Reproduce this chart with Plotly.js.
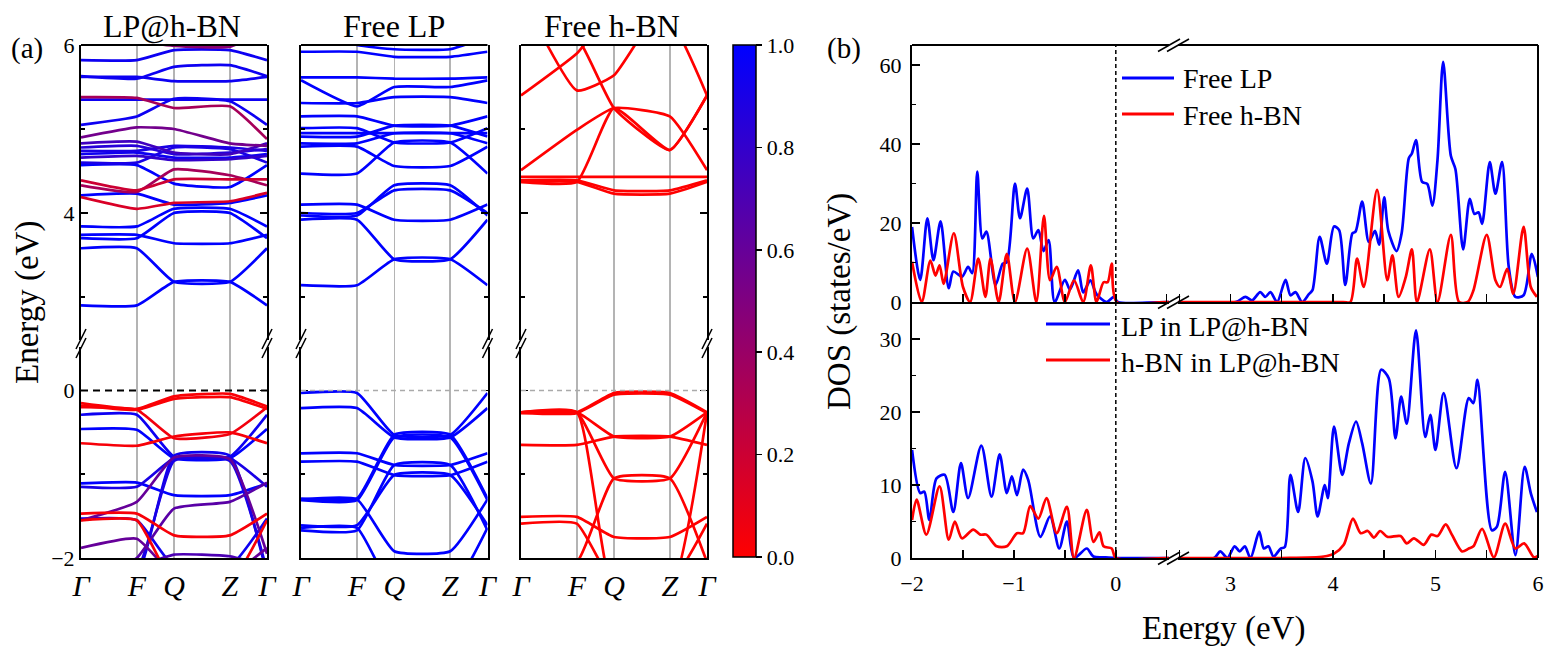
<!DOCTYPE html>
<html><head><meta charset="utf-8">
<script src="https://cdn.plot.ly/plotly-3.0.1.min.js"></script>
<style>body{margin:0;background:#fff}#c{width:1552px;height:648px}</style>
</head><body><div id="c"></div>
<script>
// ---------- DATA ----------
const kTicks = [0, 0.30, 0.50, 0.80, 1.0];
const kLabels = ['Γ', 'F', 'Q', 'Z', 'Γ'];

// band energies (eV) at Γ, F, Q, Z, Γ
const lpHbnUp = [
 [5.82,5.82,5.94,5.94,5.82],[5.63,5.60,5.74,5.76,5.63],[6.30,6.05,5.99,5.98,6.20],
 [5.38,5.37,5.25,5.27,4.88],[5.35,5.35,5.35,5.35,5.35],[5.05,5.15,5.36,5.33,5.05],
 [4.90,5.02,5.00,4.83,4.80],[4.83,4.85,4.72,4.70,4.83],[4.78,4.80,4.70,4.72,4.76],
 [4.74,4.74,4.80,4.78,4.74],[4.70,4.72,4.66,4.66,4.70],[4.66,4.68,4.63,4.64,4.68],
 [4.57,4.57,4.35,4.31,4.57],[4.60,4.60,4.78,4.76,4.60],[4.39,4.27,4.40,4.40,4.40],
 [4.33,4.25,4.52,4.45,4.33],[4.21,4.23,4.10,4.12,4.21],[4.19,4.05,4.12,4.14,4.24],
 [3.84,3.84,4.05,4.05,3.84],[3.74,3.74,3.64,3.64,3.74],[3.70,3.70,4.00,4.00,3.70],
 [3.58,3.58,3.18,3.18,3.58],[2.90,2.90,3.18,3.18,2.90],[5.62,5.62,5.57,5.57,5.62]
];
const lpHbnUpW = [0.95,0.95,0.45,0.35,0.95,0.95,0.55,0.75,0.85,0.9,0.95,0.8,1,0.9,0.2,0.35,1,0.15,1,1,1,1,1,0.95];

const lpHbnLow = [
 [-0.15,-0.22,-0.07,-0.04,-0.19],[-0.18,-0.23,-0.10,-0.08,-0.22],[-0.20,-0.23,-0.57,-0.52,-0.20],
 [-0.29,-0.29,-0.79,-0.79,-0.29],[-0.63,-0.66,-0.55,-0.50,-0.63],[-0.46,-0.47,-0.81,-0.81,-0.46],
 [-1.11,-1.10,-1.25,-1.25,-1.11],[-1.15,-1.15,-0.81,-0.81,-1.15],[-1.55,-1.33,-0.80,-0.82,-1.95],
 [-1.47,-1.47,-1.73,-1.73,-1.47],[-1.55,-1.55,-2.30,-2.30,-1.55],[-1.53,-1.55,-2.10,-2.10,-1.53],
 [-1.88,-1.77,-2.20,-2.20,-1.88],[-2.10,-2.10,-1.96,-1.98,-2.10],[-2.30,-2.20,-0.78,-0.78,-2.20],
 [-2.30,-2.15,-0.84,-0.84,-2.15],[-2.30,-2.00,-1.41,-1.33,-1.10]
];
const lpHbnLowW = [0.02,0.02,0.05,0.95,0.03,1,1,0.9,0.6,0.03,0.03,0.95,0.6,0.7,0.95,0.9,0.65];

const freeLpUp = [
 [3.14,3.14,3.45,3.45,3.14],[3.92,3.92,3.45,3.45,3.92],[3.97,3.97,4.33,4.33,3.97],
 [4.00,4.00,4.27,4.27,4.00],[4.10,4.10,3.92,3.92,4.10],[4.47,4.47,4.84,4.84,4.47],
 [4.79,4.79,4.56,4.56,4.79],[4.83,4.83,4.95,4.95,4.83],[4.91,4.91,5.04,5.04,4.91],
 [4.95,4.95,4.95,4.95,4.95],[5.01,5.01,4.84,4.84,5.01],[5.15,5.15,5.04,5.04,5.15],
 [5.31,5.31,5.38,5.38,5.31],[5.58,5.27,5.50,5.50,5.58],[5.615,5.615,5.60,5.60,5.615],
 [5.92,5.92,5.86,5.86,5.92],[6.20,6.00,5.95,5.95,6.10]
];
const freeLpLow = [
 [-0.03,-0.03,-0.53,-0.53,-0.03],[-0.21,-0.21,-0.56,-0.56,-0.21],[-0.75,-0.75,-0.89,-0.89,-0.75],
 [-0.85,-0.85,-1.01,-1.01,-0.85],[-1.29,-1.29,-0.53,-0.53,-1.29],[-1.31,-1.31,-0.56,-0.56,-1.31],
 [-1.30,-1.30,-1.92,-1.92,-1.30],[-1.61,-1.61,-1.01,-1.01,-1.61],[-1.67,-1.67,-0.89,-0.89,-1.67],
 [-1.64,-1.64,-2.40,-2.40,-1.64]
];

const freeBnUp = [
 [4.43,4.43,4.43,4.43,4.43],[4.37,4.37,4.23,4.23,4.37],[4.39,4.39,4.27,4.27,4.39],
 [4.51,4.99,5.25,5.15,4.51],[4.37,4.37,5.25,4.75,5.40],[5.40,5.90,6.40,6.40,6.40],
 [6.60,5.46,5.64,6.60,6.60],[6.50,6.10,5.25,4.75,5.40],[6.50,6.50,6.50,6.30,5.40]
];
const freeBnLow = [
 [-0.26,-0.26,-0.03,-0.03,-0.26],[-0.27,-0.27,-0.05,-0.05,-0.27],[-0.26,-0.26,-0.55,-0.55,-0.26],
 [-0.65,-0.65,-0.55,-0.55,-0.65],[-0.26,-0.26,-1.05,-1.05,-0.26],[-0.26,-0.26,-2.40,-2.40,-0.26],
 [-2.20,-2.05,-1.05,-1.05,-2.05],[-1.51,-1.51,-1.75,-1.75,-1.51],[-1.59,-1.59,-2.30,-2.30,-1.59]
];

// DOS (states/eV)
const eFreeLP = [-2.0,-1.92,-1.85,-1.79,-1.72,-1.64,-1.595,-1.51,-1.45,-1.41,-1.36,-1.31,-1.27,-1.18,-1.11,-1.07,-0.99,-0.94,-0.87,-0.81,-0.76,-0.71,-0.66,-0.60,-0.50,-0.45,-0.37,-0.32,-0.25,-0.19,-0.09,-0.02,0.02,0.5,2.4,3.05,3.146,3.21,3.29,3.34,3.39,3.455,3.537,3.585,3.634,3.70,3.765,3.80,3.87,3.94,4.01,4.06,4.12,4.19,4.22,4.285,4.35,4.41,4.45,4.50,4.54,4.62,4.67,4.74,4.77,4.81,4.87,4.92,4.97,5.02,5.075,5.15,5.195,5.27,5.335,5.38,5.42,5.455,5.53,5.585,5.65,5.715,5.78,5.86,5.94,6.0];
const dosFreeLP = [19,5.6,21.2,10.6,20.4,3.5,7.7,6.4,8.9,7.3,33.0,16.1,17.8,4.3,9.7,10.1,30.0,21.2,28.7,16.1,18.2,12.9,15.7,0,5.6,3.2,8.0,2.4,5.5,2.0,0,1.3,0,0,0,0,1.3,0.4,2.5,1.3,2.5,0,5.6,1.7,2.5,0,2.0,3.0,16.5,9.7,19.1,18.2,4.3,17.4,17.8,25.4,15.2,18,14.5,26.5,18,12.9,17.4,36.4,37.6,41.0,30.4,29.9,24.4,36,60.8,37,33.6,13.3,26.1,22.3,22.7,19.8,35.4,27.4,35.4,8.9,1.3,1.7,12.2,6.3];

const eFreeBN = [-2.0,-1.905,-1.82,-1.77,-1.73,-1.69,-1.59,-1.50,-1.43,-1.35,-1.28,-1.23,-1.15,-1.07,-0.99,-0.87,-0.78,-0.705,-0.645,-0.58,-0.50,-0.41,-0.32,-0.245,-0.19,-0.12,-0.08,-0.04,0.01,0.5,2.4,4.10,4.17,4.235,4.30,4.43,4.53,4.58,4.64,4.71,4.77,4.82,4.945,5.02,5.15,5.23,5.315,5.37,5.50,5.585,5.63,5.70,5.76,5.86,5.93,5.99];
const dosFreeBN = [10.2,0,10.5,6.7,9.3,4.6,17.4,3.8,0,11,1.3,11,0,12.2,0,13.5,0,21.8,5.5,8.9,0,5.5,0,9.3,0,5,5,9.7,0,0,0,0,0,11.0,3.8,28.4,5.5,11.8,1.3,6.3,13.3,0,13.3,0,17.0,0,0,2.9,17,5.5,3.8,8.4,2.1,19.0,3.8,1.3];

const eLPin = [-2.0,-1.92,-1.88,-1.83,-1.76,-1.68,-1.595,-1.52,-1.45,-1.32,-1.22,-1.14,-1.07,-1.02,-0.97,-0.91,-0.86,-0.74,-0.645,-0.555,-0.48,-0.41,-0.285,-0.22,-0.1,0.0,0.5,2.4,2.84,2.90,2.97,3.04,3.09,3.14,3.195,3.28,3.325,3.37,3.42,3.49,3.53,3.585,3.66,3.73,3.80,3.85,3.92,3.95,4.01,4.09,4.155,4.225,4.285,4.37,4.47,4.545,4.61,4.665,4.72,4.81,4.90,4.95,5.0,5.08,5.205,5.325,5.37,5.41,5.55,5.60,5.68,5.78,5.87,5.93,5.99];
const dosLPin = [14.8,8.9,9.1,5.2,10.9,11.4,6.3,13.0,8.2,15.4,8.4,14.2,8.9,11.2,8.6,12.1,10.7,2.9,5.7,1.3,5.0,0,1.3,0.2,0.1,0,0,0,0,0.9,0,1.6,0.9,1.6,0,3.6,1.3,1.6,0.2,1.3,1.5,11.4,6.3,13.7,10.5,5.7,10,8.2,18.0,11.4,15.7,18.7,15.7,10.2,25.8,24.6,16.4,22.1,18.4,31.2,16.6,19.6,14.8,22.6,12.3,21.9,21.2,24.4,3.8,4.3,11.8,0.4,12.5,8.9,6.3];

const eBNin = [-2.0,-1.955,-1.86,-1.73,-1.64,-1.58,-1.51,-1.40,-1.33,-1.27,-1.17,-1.07,-0.97,-0.91,-0.84,-0.76,-0.68,-0.58,-0.48,-0.41,-0.285,-0.22,-0.16,-0.12,-0.04,0.0,0.5,2.4,3.5,3.91,4.01,4.105,4.195,4.27,4.34,4.40,4.46,4.53,4.66,4.72,4.79,4.885,4.96,5.02,5.10,5.16,5.26,5.325,5.37,5.455,5.57,5.68,5.78,5.865,5.96,6.0];
const dosBNin = [5.2,8.0,3.2,9.8,2.5,5.0,2.7,3.9,3.2,3.2,1.6,1.6,3.4,3.4,7.1,5.4,8.2,3.4,7.0,0,6.6,2.2,3.5,1.6,1.3,0,0,0,0,0.2,0.6,1.8,5.4,3.4,3.7,2.8,3.7,2.9,3.0,2.0,2.7,1.8,3.2,3.0,4.6,3.2,0.9,1.3,1.6,4.0,0.1,4.7,1.3,2.0,0.1,0.3];

// ---------- LAYOUT HELPERS ----------
const W = 1552, H = 648;
const fx = p => p / W, fy = p => 1 - p / H;
const BLUE = '#0000ff', RED = '#ff0000';
const wColor = w => `rgb(${Math.round(255*(1-w))},0,${Math.round(255*w)})`;
const FONT = 'Liberation Serif';

const traces = [];
function addBands(bands, colors, xa, ya) {
  const idx = bands.map((b, i) => i);
  idx.sort((a, b) => colors[b].w - colors[a].w);
  idx.forEach(i => traces.push({type:'scatter', mode:'lines', x:kTicks, y:bands[i], xaxis:xa, yaxis:ya,
    line:{color:colors[i].c, width:2.7, shape:'spline', smoothing:0.45}, hoverinfo:'skip', showlegend:false}));
}
addBands(lpHbnUp, lpHbnUpW.map(w => ({w, c:wColor(w)})), 'x', 'y');
addBands(lpHbnLow, lpHbnLowW.map(w => ({w, c:wColor(w)})), 'x', 'y2');
addBands(freeLpUp, freeLpUp.map(() => ({w:1, c:BLUE})), 'x2', 'y3');
addBands(freeLpLow, freeLpLow.map(() => ({w:1, c:BLUE})), 'x2', 'y4');
addBands(freeBnUp, freeBnUp.map(() => ({w:0, c:RED})), 'x3', 'y5');
addBands(freeBnLow, freeBnLow.map(() => ({w:0, c:RED})), 'x3', 'y6');

// colorbar host (projection weights)
traces.push({type:'scatter', mode:'markers', x:lpHbnUp.map(() => kTicks[0]), y:lpHbnUp.map(b => b[0]),
  xaxis:'x', yaxis:'y', hoverinfo:'skip', showlegend:false,
  marker:{size:1, opacity:0, color:lpHbnUpW, cmin:0, cmax:1,
    colorscale:[[0,'rgb(255,0,0)'],[1,'rgb(0,0,255)']], showscale:true,
    colorbar:{x:fx(733), xanchor:'left', y:fy(301), yanchor:'middle', len:(557-45)/H, lenmode:'fraction',
      thickness:23, thicknessmode:'pixels', xpad:0, ypad:0, outlinecolor:'black', outlinewidth:1.5,
      ticks:'outside', ticklen:6, tickwidth:1.5, tickcolor:'black', dtick:0.2, tick0:0, tickformat:'.1f',
      tickfont:{family:FONT, size:22, color:'black'}}}});

function addDos(e, d, color, xas, ya) {
  xas.forEach(xa => traces.push({type:'scatter', mode:'lines', x:e, y:d, xaxis:xa, yaxis:ya,
    line:{color, width:2.7, shape:'spline', smoothing:0.8}, hoverinfo:'skip', showlegend:false}));
}
addDos(eFreeLP, dosFreeLP, BLUE, ['x4','x5'], 'y7');
addDos(eFreeBN, dosFreeBN, RED, ['x4','x5'], 'y7');
addDos(eLPin, dosLPin, BLUE, ['x6','x7'], 'y8');
addDos(eBNin, dosBNin, RED, ['x6','x7'], 'y8');

// ---------- AXES ----------
const panels = [[81,267],[301,487.5],[521,707]];
const yUp = [fy(343), fy(45)], yLow = [fy(558), fy(343)];
const layout = {
  width:W, height:H, margin:{l:0,r:0,t:0,b:0}, paper_bgcolor:'white', plot_bgcolor:'rgba(0,0,0,0)',
  font:{family:FONT, size:22, color:'black'}, showlegend:false, hovermode:false,
  shapes:[], annotations:[]
};
const tickCommon = {ticks:'inside', tickcolor:'black', tickwidth:1.5, showline:true, linecolor:'black', linewidth:2,
  zeroline:false, showgrid:false, tickfont:{family:FONT, size:22, color:'black'}};
panels.forEach((p, i) => {
  const xn = i === 0 ? 'xaxis' : 'xaxis' + (i+1);
  const yu = 2*i + 1, yl = 2*i + 2;
  const yuName = yu === 1 ? 'yaxis' : 'yaxis' + yu, ylName = 'yaxis' + yl;
  const ylRef = 'y' + yl;
  const xRef = i === 0 ? 'x' : 'x' + (i+1);
  layout[xn] = {domain:[fx(p[0]), fx(p[1])], anchor:ylRef, range:[0,1], tickvals:kTicks,
    ticktext:kLabels.map(t => '<i>' + t + '</i>'), ticks:'', showgrid:true, gridcolor:'#b4b4b4', gridwidth:1.5,
    showline:true, linecolor:'black', linewidth:2, zeroline:false, ticklabelstandoff:0,
    tickfont:{family:FONT, size:30, color:'black'}};
  const yc = Object.assign({}, tickCommon, {anchor:xRef, mirror:'ticks', ticklen:7, dtick:2, tick0:0,
    showticklabels:i === 0, minor:{dtick:1, ticks:'inside', ticklen:4, tickwidth:1.5, tickcolor:'black'}});
  layout[yuName] = Object.assign({}, yc, {domain:yUp, range:[2.452, 6.0005]});
  layout[ylName] = Object.assign({}, yc, {domain:yLow, range:[-2.0005, 0.567]});
});
const xL = [fx(912), fx(1173)], xR = [fx(1173), fx(1538)];
const xdos = (dom, anchor, range, labels) => Object.assign({}, tickCommon, {domain:dom, anchor, range, dtick:1, tick0:0,
  ticklen:8, showticklabels:labels, ticklabelstandoff:5, minor:{dtick:0.5, ticks:'inside', ticklen:8, tickwidth:1.5, tickcolor:'black'}});
layout.xaxis4 = xdos(xL, 'y7', [-2.0005, 0.5614], false);
layout.xaxis5 = xdos(xR, 'y7', [2.439, 6.0005], false);
layout.xaxis6 = xdos(xL, 'y8', [-2.0005, 0.5614], true);
layout.xaxis7 = xdos(xR, 'y8', [2.439, 6.0005], true);
layout.yaxis7 = Object.assign({}, tickCommon, {domain:[fy(302), fy(45)], anchor:'x4', range:[0, 65.06], dtick:20, tick0:0,
  ticklen:8, ticklabelstandoff:4, minor:{dtick:10, ticks:'inside', ticklen:4, tickwidth:1.5, tickcolor:'black'}});
layout.yaxis8 = Object.assign({}, tickCommon, {domain:[fy(558), fy(302)], anchor:'x6', range:[0, 35.07], dtick:10, tick0:0,
  ticklen:8, ticklabelstandoff:4, minor:{dtick:5, ticks:'inside', ticklen:4, tickwidth:1.5, tickcolor:'black'}});

// ---------- SHAPES ----------
const S = layout.shapes;
const pline = (x0,y0,x1,y1,color,width,dash) => S.push({type:'line', xref:'paper', yref:'paper', layer:'above',
  x0:fx(x0), y0:fy(y0), x1:fx(x1), y1:fy(y1), line:{color, width, dash:dash || 'solid'}});
const prect = (x0,y0,x1,y1) => S.push({type:'rect', xref:'paper', yref:'paper', layer:'above',
  x0:fx(x0), y0:fy(y0), x1:fx(x1), y1:fy(y1), fillcolor:'white', line:{width:0}});
panels.forEach(p => pline(p[0], 45, p[1], 45, 'black', 2));
pline(912, 45, 1538, 45, 'black', 2);
pline(1538, 45, 1538, 558, 'black', 2);
// Fermi level lines
S.push({type:'line', xref:'x', yref:'y2', x0:0, x1:1, y0:0, y1:0, line:{color:'black', width:2, dash:'7px,5px'}});
S.push({type:'line', xref:'x2', yref:'y4', x0:0, x1:1, y0:0, y1:0, line:{color:'#aaaaaa', width:1.3, dash:'5px,4px'}});
S.push({type:'line', xref:'x3', yref:'y6', x0:0, x1:1, y0:0, y1:0, line:{color:'#aaaaaa', width:1.3, dash:'5px,4px'}});
S.push({type:'line', xref:'x6', yref:'paper', x0:0, x1:0, y0:fy(558), y1:fy(45), line:{color:'black', width:1.5, dash:'4px,3px'}});
// axis break marks
[81,267,301,487.5,521,707].forEach(x => {
  prect(x-3, 340, x+3, 347);
  pline(x-5, 349, x+5, 329, 'black', 1.5);
  pline(x-5, 358, x+5, 338, 'black', 1.5);
});
[45, 302, 558].forEach(y => {
  prect(1169, y-2.5, 1178, y+2.5);
  pline(1158, y+6.5, 1180, y-6, 'black', 1.5);
  pline(1167, y+6.5, 1189, y-6, 'black', 1.5);
});
// legend samples
pline(1122, 78, 1174, 78, BLUE, 3);
pline(1122, 114, 1174, 114, RED, 3);
pline(1046, 324, 1110, 324, BLUE, 3);
pline(1046, 360, 1110, 360, RED, 3);

// ---------- TEXT ----------
const A = layout.annotations;
const ann = (text, x, y, size, extra) => A.push(Object.assign({text, x:fx(x), y:fy(y), xref:'paper', yref:'paper',
  showarrow:false, xanchor:'center', yanchor:'middle', font:{family:FONT, size, color:'black'}}, extra || {}));
ann('LP@h-BN', 172, 26, 32);
ann('Free LP', 394, 26, 32);
ann('Free h-BN', 612, 26, 32);
ann('(a)', 27, 48, 29);
ann('(b)', 844, 48, 29);
ann('Energy (eV)', 27, 303, 33, {textangle:-90});
ann('DOS (states/eV)', 839, 302, 33, {textangle:-90});
ann('Energy (eV)', 1223, 628, 33);
ann('Free LP', 1181, 79, 28, {xanchor:'left'});
ann('Free h-BN', 1181, 115, 28, {xanchor:'left'});
ann('LP in LP@h-BN', 1119, 326, 28, {xanchor:'left'});
ann('h-BN in LP@h-BN', 1119, 362, 28, {xanchor:'left'});

Plotly.newPlot('c', traces, layout, {displayModeBar:false, staticPlot:true});
</script></body></html>
